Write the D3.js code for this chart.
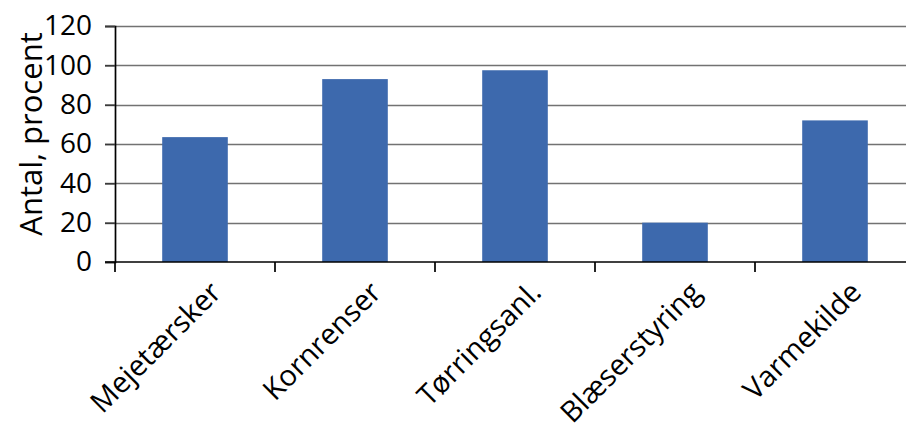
<!DOCTYPE html>
<html>
<head>
<meta charset="utf-8">
<script src="https://cdn.jsdelivr.net/npm/d3@7/dist/d3.min.js"></script>
<style>
  html, body { margin: 0; padding: 0; background: #fff; }
  svg { display: block; }
  text { font-family: "Open Sans", "Noto Sans", sans-serif; fill: #000; }
</style>
</head>
<body>
<svg id="chart" width="906" height="433"></svg>
<script>
// Survey share per machine type
const categories = ["Mejetærsker", "Kornrenser", "Tørringsanl.", "Blæserstyring", "Varmekilde"];
const values = [63.5, 93, 97.5, 20, 72];
const yTicks = [0, 20, 40, 60, 80, 100, 120];
const yTitle = "Antal, procent";

const svg = d3.select("#chart");
const plotLeft = 115, plotRight = 915, plotTop = 26, plotBottom = 262;

const x = d3.scaleBand()
  .domain(categories)
  .range([plotLeft, plotRight])
  .paddingInner(0.59)
  .paddingOuter(0.295);

const y = d3.scaleLinear().domain([0, 120]).range([plotBottom, plotTop]);

// horizontal gridlines (extend left of the axis as tick marks)
svg.append("g")
  .selectAll("line")
  .data(yTicks.filter(d => d !== 0))
  .join("line")
  .attr("x1", plotLeft - 10)
  .attr("x2", 906)
  .attr("y1", d => Math.round(y(d)) + 0.5)
  .attr("y2", d => Math.round(y(d)) + 0.5)
  .attr("stroke", "#727272")
  .attr("stroke-width", 1.6);

// bars
svg.append("g")
  .selectAll("rect")
  .data(values)
  .join("rect")
  .attr("x", (d, i) => x(categories[i]))
  .attr("width", x.bandwidth())
  .attr("y", d => y(d))
  .attr("height", d => y(0) - y(d))
  .attr("fill", "#3d69ad");

// y axis
const yAxis = d3.axisLeft(y).tickValues(yTicks).tickSize(10).tickPadding(13);
const gy = svg.append("g").attr("transform", `translate(${plotLeft},0)`).call(yAxis);
gy.select(".domain").attr("stroke", "#000").attr("stroke-width", 1.7);
gy.selectAll(".tick line").attr("stroke", "#3a3a3a").attr("stroke-width", 1.6);
gy.selectAll(".tick text")
  .style("font-size", "28px")
  .attr("fill", "#000");

// x axis: ticks at category boundaries
const bounds = categories.map(c => x(c) - x.step() * x.paddingInner() / 2);
svg.append("line")
  .attr("x1", plotLeft - 10).attr("x2", 906)
  .attr("y1", y(0)).attr("y2", y(0))
  .attr("stroke", "#000").attr("stroke-width", 1.7);
svg.append("g")
  .selectAll("line")
  .data(bounds)
  .join("line")
  .attr("x1", d => d).attr("x2", d => d)
  .attr("y1", y(0)).attr("y2", y(0) + 10)
  .attr("stroke", "#000").attr("stroke-width", 1.7);

// rotated category labels
svg.append("g")
  .selectAll("text")
  .data(categories)
  .join("text")
  .attr("text-anchor", "end")
  .style("font-size", "29px")
  .attr("transform", d => `translate(${x(d) + x.bandwidth() / 2 + 28},294) rotate(-45)`)
  .text(d => d);

// y axis title
svg.append("text")
  .attr("text-anchor", "middle")
  .style("font-size", "31px")
  .attr("transform", `translate(42,134) rotate(-90)`)
  .text(yTitle);
</script>
</body>
</html>
